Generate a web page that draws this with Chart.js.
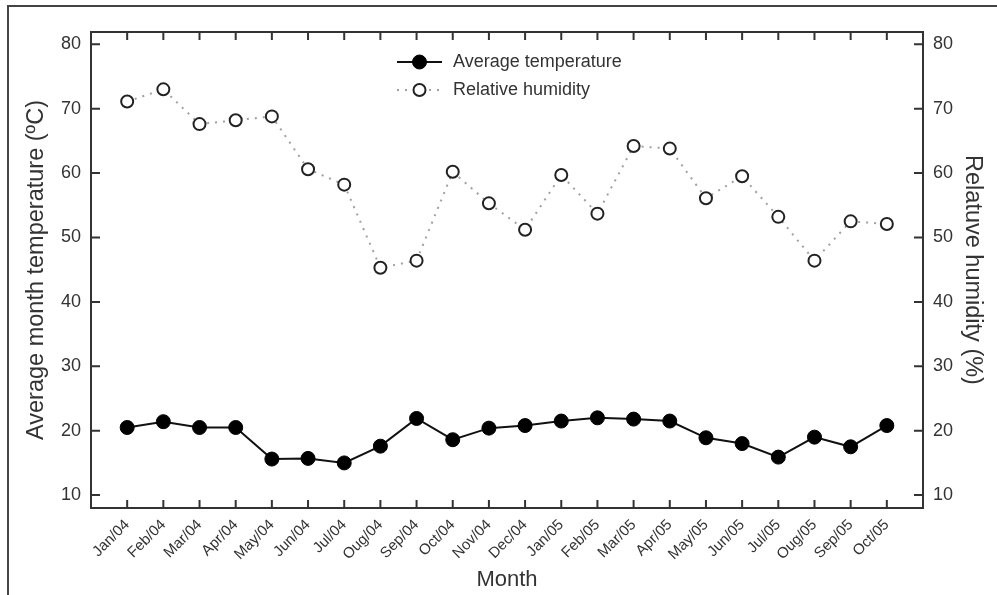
<!DOCTYPE html>
<html>
<head>
<meta charset="utf-8">
<script src="https://cdn.jsdelivr.net/npm/chart.js@4.4.0/dist/chart.umd.min.js"></script>
<style>
  body { margin: 0; background: #fff; }
  #wrap { position: relative; width: 997px; height: 595px; }
  #edge { position: absolute; left: 7px; top: 5px; right: 0; bottom: 0;
          border-left: 2px solid #444; border-top: 2px solid #444; pointer-events: none; }
</style>
</head>
<body>
<div id="wrap">
  <canvas id="chart" width="997" height="595"></canvas>
  <div id="edge"></div>
</div>
<script>
const months = ['Jan/04','Feb/04','Mar/04','Apr/04','May/04','Jun/04','Jul/04','Oug/04','Sep/04','Oct/04','Nov/04','Dec/04',
                'Jan/05','Feb/05','Mar/05','Apr/05','May/05','Jun/05','Jul/05','Oug/05','Sep/05','Oct/05'];
const avgTemperature = [20.5, 21.4, 20.5, 20.5, 15.6, 15.7, 15.0, 17.6, 21.9, 18.6, 20.4, 20.8,
                        21.5, 22.0, 21.8, 21.5, 18.9, 18.0, 15.9, 19.0, 17.5, 20.8];
const relHumidity = [71.1, 73.0, 67.6, 68.2, 68.8, 60.6, 58.2, 45.3, 46.4, 60.2, 55.3, 51.2,
                     59.7, 53.7, 64.2, 63.8, 56.1, 59.5, 53.2, 46.4, 52.5, 52.1];
const yTicks = [10, 20, 30, 40, 50, 60, 70, 80];

const font = '"Liberation Sans", Arial, sans-serif';
const ink = '#333';

// frame around the plot with inward ticks on all four sides
const frameTicks = {
  id: 'frameTicks',
  beforeDatasetsDraw(chart) {
    const { ctx, chartArea: a, scales } = chart;
    ctx.save();
    ctx.strokeStyle = ink;
    ctx.lineWidth = 2;
    ctx.strokeRect(a.left, a.top, a.right - a.left, a.bottom - a.top);
    ctx.beginPath();
    yTicks.forEach(v => {
      const p = scales.y.getPixelForValue(v);
      ctx.moveTo(a.left, p); ctx.lineTo(a.left + 9, p);
      const q = scales.y2.getPixelForValue(v);
      ctx.moveTo(a.right, q); ctx.lineTo(a.right - 9, q);
    });
    months.forEach((m, i) => {
      const p = scales.x.getPixelForValue(i);
      ctx.moveTo(p, a.bottom); ctx.lineTo(p, a.bottom - 8);
      ctx.moveTo(p, a.top); ctx.lineTo(p, a.top + 8);
    });
    ctx.stroke();
    ctx.restore();
  }
};

// legend stacked inside the plot area
const innerLegend = {
  id: 'innerLegend',
  afterDraw(chart) {
    const ctx = chart.ctx;
    const x0 = 397, x1 = 442, tx = 453;
    const rows = [
      { y: 62, text: 'Average temperature', ds: chart.data.datasets[0] },
      { y: 90, text: 'Relative humidity', ds: chart.data.datasets[1] }
    ];
    ctx.save();
    rows.forEach(r => {
      ctx.beginPath();
      ctx.strokeStyle = r.ds.borderColor;
      ctx.lineWidth = r.ds.borderWidth;
      ctx.setLineDash(r.ds.borderDash || []);
      ctx.moveTo(x0, r.y); ctx.lineTo(x1, r.y);
      ctx.stroke();
      ctx.setLineDash([]);
      ctx.beginPath();
      ctx.arc((x0 + x1) / 2, r.y, r.ds.pointRadius, 0, Math.PI * 2);
      ctx.fillStyle = r.ds.pointBackgroundColor;
      ctx.fill();
      ctx.lineWidth = r.ds.pointBorderWidth;
      ctx.strokeStyle = r.ds.pointBorderColor;
      ctx.stroke();
      ctx.fillStyle = ink;
      ctx.font = '18px ' + font;
      ctx.textBaseline = 'middle';
      ctx.fillText(r.text, tx, r.y);
    });
    ctx.restore();
  }
};

new Chart(document.getElementById('chart').getContext('2d'), {
  type: 'line',
  data: {
    datasets: [{
      label: 'Average temperature',
      data: months.map((m, i) => ({ x: i, y: avgTemperature[i] })),
      yAxisID: 'y',
      borderColor: '#111',
      borderWidth: 2,
      pointRadius: 7,
      pointBackgroundColor: '#000',
      pointBorderColor: '#000',
      pointBorderWidth: 1
    }, {
      label: 'Relative humidity',
      data: months.map((m, i) => ({ x: i, y: relHumidity[i] })),
      yAxisID: 'y2',
      borderColor: '#a0a0a0',
      borderWidth: 2,
      borderDash: [2, 6],
      pointRadius: 6,
      pointBackgroundColor: '#fff',
      pointBorderColor: '#222',
      pointBorderWidth: 2
    }]
  },
  options: {
    responsive: false,
    animation: false,
    layout: { padding: { top: 32, left: 0, right: 0, bottom: 0 } },
    plugins: { legend: { display: false }, tooltip: { enabled: false } },
    scales: {
      x: {
        type: 'linear',
        min: -1,
        max: 22,
        grid: { display: false, drawTicks: false },
        border: { display: false },
        afterFit: s => { s.height = 87; },
        ticks: {
          stepSize: 1,
          autoSkip: false,
          maxRotation: 45,
          minRotation: 45,
          padding: 8,
          color: ink,
          font: { family: font, size: 15 },
          callback: v => months[v] || ''
        },
        title: { display: true, text: 'Month', color: ink, font: { family: font, size: 22 }, padding: 2 }
      },
      y: {
        position: 'left',
        min: 8,
        max: 81.9,
        grid: { display: false, drawTicks: false },
        border: { display: false },
        afterFit: s => { s.width = 91; },
        ticks: { stepSize: 10, includeBounds: false, padding: 10, color: ink, font: { family: font, size: 18 } },
        title: { display: true, text: 'Average month temperature (ºC)', color: ink, font: { family: font, size: 23.5 }, padding: 22 }
      },
      y2: {
        position: 'right',
        min: 8,
        max: 81.9,
        grid: { display: false, drawTicks: false },
        border: { display: false },
        afterFit: s => { s.width = 74; },
        ticks: { stepSize: 10, includeBounds: false, padding: 10, color: ink, font: { family: font, size: 18 } },
        title: { display: true, text: 'Relatuve humidity (%)', color: ink, font: { family: font, size: 23.5 }, padding: 10 }
      }
    }
  },
  plugins: [frameTicks, innerLegend]
});
</script>
</body>
</html>
